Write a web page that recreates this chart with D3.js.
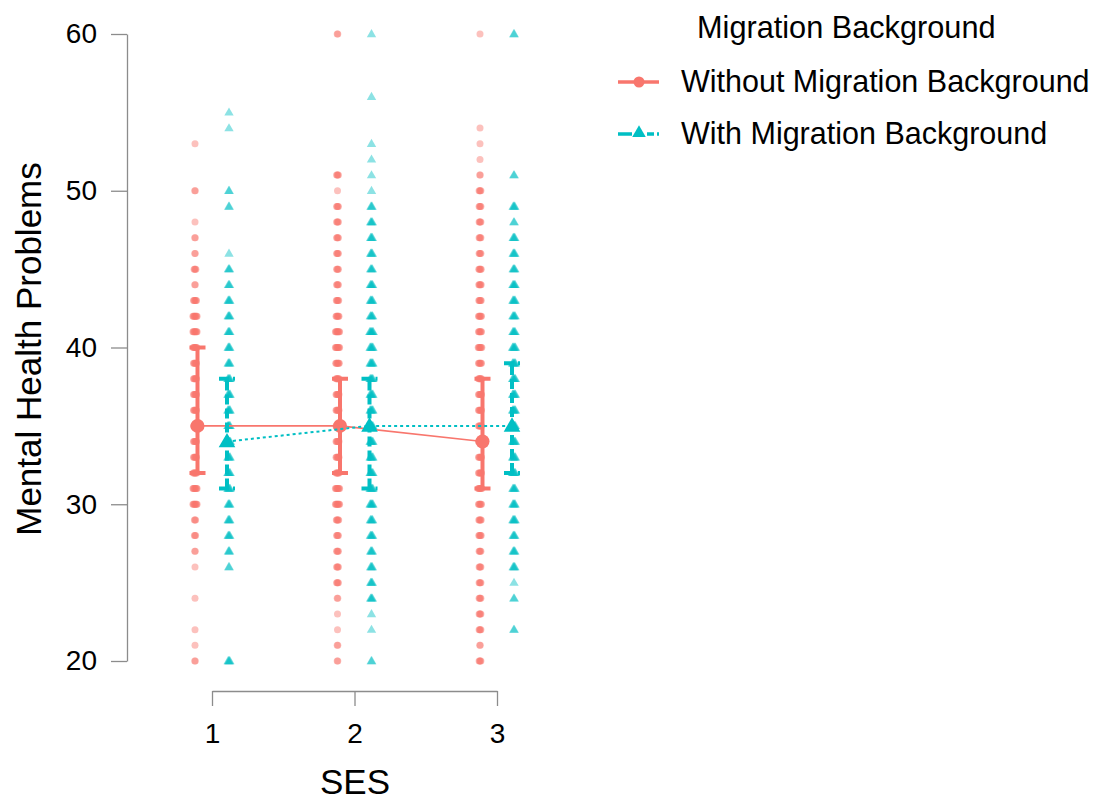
<!DOCTYPE html>
<html>
<head>
<meta charset="utf-8">
<script src="https://cdn.jsdelivr.net/npm/d3@7"></script>
<style>
  body { margin: 0; background: #fff; }
  svg text { font-family: "Liberation Sans", Arial, sans-serif; fill: #000; }
</style>
</head>
<body>
<div id="chart"></div>
<script>
// SES levels and groups
const sesLevels = ['1', '2', '3'];
const groupNames = ['Without Migration Background', 'With Migration Background'];
const groupColors = ['#F8766D', '#00BFC4'];
const yTicks = [20, 30, 40, 50, 60];

// estimated marginal means and 95% CI per group and SES
const meanWithout = [35, 35, 34];
const meanWith = [34, 35, 35];
const lowerWithout = [32, 32, 31];
const upperWithout = [40, 38, 38];
const lowerWith = [31, 31, 32];
const upperWith = [38, 38, 39];

// raw scores as [score, number of cases]
const rawWithout1 = [[20, 2], [21, 1], [22, 1], [24, 1], [26, 1], [27, 2], [28, 3], [29, 3], [30, 8], [31, 8], [32, 7], [33, 6], [34, 6], [35, 6], [36, 6], [37, 6], [38, 6], [39, 6], [40, 7], [41, 8], [42, 8], [43, 6], [44, 2], [45, 4], [46, 2], [47, 2], [48, 1], [50, 2], [53, 1]];
const rawWithout2 = [[20, 2], [21, 2], [22, 1], [23, 1], [24, 2], [25, 4], [26, 4], [27, 4], [28, 4], [29, 5], [30, 8], [31, 8], [32, 6], [33, 6], [34, 6], [35, 6], [36, 6], [37, 6], [38, 6], [39, 7], [40, 8], [41, 8], [42, 6], [43, 5], [44, 4], [45, 4], [46, 4], [47, 4], [48, 4], [49, 4], [50, 1], [51, 4], [60, 2]];
const rawWithout3 = [[20, 4], [21, 2], [22, 4], [23, 4], [24, 4], [25, 4], [26, 4], [27, 4], [28, 5], [29, 5], [30, 6], [31, 7], [32, 6], [33, 6], [34, 6], [35, 6], [36, 6], [37, 6], [38, 6], [39, 6], [40, 7], [41, 6], [42, 6], [43, 5], [44, 5], [45, 5], [46, 4], [47, 4], [48, 4], [49, 4], [50, 4], [51, 2], [52, 1], [53, 1], [54, 1], [60, 1]];
const rawWith1 = [[20, 4], [26, 2], [27, 3], [28, 4], [29, 4], [30, 4], [31, 5], [32, 5], [33, 5], [34, 6], [35, 5], [36, 5], [37, 5], [38, 5], [39, 4], [40, 4], [41, 4], [42, 4], [43, 4], [44, 3], [45, 3], [46, 1], [49, 2], [50, 2], [54, 1], [55, 1]];
const rawWith2 = [[20, 2], [22, 1], [23, 1], [24, 4], [25, 4], [26, 4], [27, 4], [28, 5], [29, 5], [30, 6], [31, 6], [32, 6], [33, 6], [34, 6], [35, 6], [36, 6], [37, 6], [38, 6], [39, 6], [40, 6], [41, 7], [42, 5], [43, 5], [44, 5], [45, 4], [46, 4], [47, 4], [48, 4], [49, 3], [50, 1], [51, 1], [52, 1], [53, 1], [56, 1], [60, 1]];
const rawWith3 = [[22, 2], [24, 2], [25, 1], [26, 4], [27, 4], [28, 4], [29, 5], [30, 5], [31, 5], [32, 6], [33, 6], [34, 6], [35, 6], [36, 6], [37, 6], [38, 6], [39, 6], [40, 6], [41, 5], [42, 5], [43, 5], [44, 5], [45, 4], [46, 4], [47, 4], [48, 2], [49, 4], [51, 2], [60, 2]];

const width = 1094;
const height = 802;

const svg = d3.select('#chart')
  .append('svg')
  .attr('width', width)
  .attr('height', height);

const x = d3.scalePoint().domain(sesLevels).range([212, 497]);
const y = d3.scaleLinear().domain([20, 60]).range([661, 34]);

const pointOffset = [-17, 17];
const meanOffset = [-14.5, 15];

const means = [meanWithout, meanWith];
const lowers = [lowerWithout, lowerWith];
const uppers = [upperWithout, upperWith];
const raws = [[rawWithout1, rawWithout2, rawWithout3], [rawWith1, rawWith2, rawWith3]];

// axes
const yAxis = svg.append('g')
  .attr('transform', 'translate(127,0)')
  .call(d3.axisLeft(y).tickValues(yTicks).tickSize(16).tickSizeOuter(0).tickPadding(14));
const xAxis = svg.append('g')
  .attr('transform', 'translate(0,691)')
  .call(d3.axisBottom(x).tickSize(15).tickSizeOuter(0).tickPadding(17));
[yAxis, xAxis].forEach(a => {
  a.selectAll('path, line').attr('stroke', '#8c8c8c').attr('stroke-width', 1.3);
  a.selectAll('text').style('font-size', '28px').attr('fill', '#000');
});

svg.append('text')
  .attr('transform', 'translate(41,349) rotate(-90)')
  .attr('text-anchor', 'middle')
  .style('font-size', '35px')
  .text('Mental Health Problems');
svg.append('text')
  .attr('x', 355)
  .attr('y', 794)
  .attr('text-anchor', 'middle')
  .style('font-size', '35px')
  .text('SES');

const smallTri = d3.symbol().type(d3.symbolTriangle).size(38);
const bigTri = d3.symbol().type(d3.symbolTriangle).size(120);

// raw data points
groupNames.forEach((name, gi) => {
  const pts = [];
  sesLevels.forEach((s, si) => {
    raws[gi][si].forEach(([score, n]) => {
      for (let k = 0; k < n; k++) {
        pts.push({ses: s, score: score, dx: (k - (n - 1) / 2) * 0.6});
      }
    });
  });
  const g = svg.append('g').attr('fill', groupColors[gi]).attr('fill-opacity', 0.45);
  if (gi === 0) {
    g.selectAll('circle')
      .data(pts)
      .enter()
      .append('circle')
      .attr('cx', d => x(d.ses) + pointOffset[gi] + d.dx)
      .attr('cy', d => y(d.score))
      .attr('r', 3.5);
  } else {
    g.selectAll('path')
      .data(pts)
      .enter()
      .append('path')
      .attr('d', smallTri)
      .attr('transform', d => 'translate(' + (x(d.ses) + pointOffset[gi] + d.dx) + ',' + (y(d.score) + 0.5) + ')');
  }
});

// lines, error bars and means
groupNames.forEach((name, gi) => {
  const color = groupColors[gi];
  const line = d3.line()
    .x((d, i) => x(sesLevels[i]) + meanOffset[gi])
    .y(d => y(d));
  svg.append('path')
    .datum(means[gi])
    .attr('d', line)
    .attr('fill', 'none')
    .attr('stroke', color)
    .attr('stroke-width', gi === 0 ? 1.6 : 2)
    .attr('stroke-dasharray', gi === 0 ? null : '3,3');

  const eb = svg.append('g')
    .attr('stroke', color)
    .attr('stroke-width', 4)
    .attr('fill', 'none')
    .attr('stroke-dasharray', gi === 0 ? null : '10,4');
  sesLevels.forEach((s, si) => {
    const cx = x(s) + meanOffset[gi];
    const lo = y(lowers[gi][si]);
    const hi = y(uppers[gi][si]);
    eb.append('path')
      .attr('d', 'M' + cx + ',' + lo + 'V' + hi);
    eb.append('path')
      .attr('stroke-dasharray', null)
      .attr('d', 'M' + (cx - 8) + ',' + hi + 'H' + (cx + 8) +
        'M' + (cx - 8) + ',' + lo + 'H' + (cx + 8));
  });

  const mg = svg.append('g').attr('fill', color);
  if (gi === 0) {
    mg.selectAll('circle')
      .data(means[gi])
      .enter()
      .append('circle')
      .attr('cx', (d, i) => x(sesLevels[i]) + meanOffset[gi])
      .attr('cy', d => y(d))
      .attr('r', 7);
  } else {
    mg.selectAll('path')
      .data(means[gi])
      .enter()
      .append('path')
      .attr('d', bigTri)
      .attr('transform', (d, i) => 'translate(' + (x(sesLevels[i]) + meanOffset[gi]) + ',' + (y(d) + 1) + ')');
  }
});

// legend
const legend = svg.append('g');
legend.append('text')
  .attr('x', 697)
  .attr('y', 38)
  .style('font-size', '30.7px')
  .text('Migration Background');
groupNames.forEach((name, gi) => {
  const ly = 82 + gi * 52;
  const item = legend.append('g');
  item.append('line')
    .attr('x1', 618).attr('x2', 659)
    .attr('y1', ly).attr('y2', ly)
    .attr('stroke', groupColors[gi])
    .attr('stroke-width', 3.5)
    .attr('stroke-dasharray', gi === 0 ? null : '14,15,7,3,2');
  if (gi === 0) {
    item.append('circle')
      .attr('cx', 639).attr('cy', ly).attr('r', 5.5)
      .attr('fill', groupColors[gi]);
  } else {
    item.append('path')
      .attr('d', d3.symbol().type(d3.symbolTriangle).size(80))
      .attr('transform', 'translate(639,' + (ly - 1) + ')')
      .attr('fill', groupColors[gi]);
  }
  item.append('text')
    .attr('x', 681)
    .attr('y', ly + 10)
    .style('font-size', '30.5px')
    .text(name);
});
</script>
</body>
</html>
